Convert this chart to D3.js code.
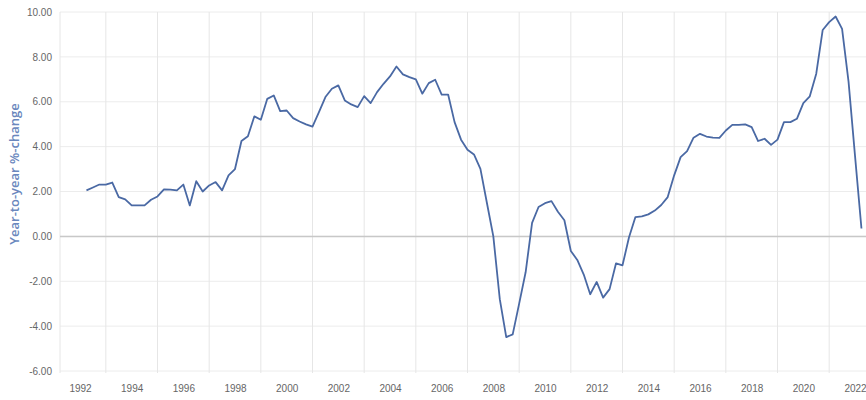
<!DOCTYPE html>
<html>
<head>
<meta charset="utf-8">
<script src="https://cdn.jsdelivr.net/npm/d3@7"></script>
<style>
  body { margin: 0; background: #fff; }
  svg { display: block; }
</style>
</head>
<body>
<svg width="866" height="400"></svg>
<script>
// quarterly year-to-year % change, first point 1992 Q2
var startYear = 1992.25;
var values = [
  2.05, 2.18, 2.31, 2.31, 2.40, 1.75, 1.65, 1.38, 1.38, 1.38,
  1.63, 1.78, 2.09, 2.08, 2.05, 2.31, 1.38, 2.46, 2.00, 2.27,
  2.42, 2.05, 2.72, 3.00, 4.25, 4.46, 5.35, 5.20, 6.13, 6.28,
  5.58, 5.61, 5.27, 5.12, 4.99, 4.89, 5.54, 6.21, 6.58, 6.73,
  6.06, 5.88, 5.76, 6.25, 5.94, 6.43, 6.80, 7.13, 7.57, 7.22,
  7.10, 7.00, 6.36, 6.83, 6.98, 6.32, 6.32, 5.09, 4.31, 3.86,
  3.65, 3.01, 1.50, 0.00, -2.80, -4.49, -4.37, -3.00, -1.60, 0.60,
  1.31, 1.48, 1.57, 1.10, 0.72, -0.65, -1.05, -1.70, -2.58, -2.03,
  -2.73, -2.35, -1.20, -1.29, -0.05, 0.86, 0.89, 0.98, 1.15, 1.40,
  1.75, 2.72, 3.53, 3.80, 4.40, 4.57, 4.45, 4.40, 4.39, 4.72,
  4.97, 4.97, 4.99, 4.87, 4.25, 4.35, 4.08, 4.31, 5.09, 5.09,
  5.24, 5.94, 6.24, 7.25, 9.20, 9.55, 9.80, 9.25, 6.90, 3.60,
  0.35
];
var yearTicks = [1992, 1994, 1996, 1998, 2000, 2002, 2004, 2006, 2008, 2010, 2012, 2014, 2016, 2018, 2020, 2022];
var gridYears = [1993, 1995, 1997, 1999, 2001, 2003, 2005, 2007, 2009, 2011, 2013, 2015, 2017, 2019, 2021];
var valueTicks = [-6, -4, -2, 0, 2, 4, 6, 8, 10];

var svg = d3.select("svg");
var plotLeft = 60, plotRight = 866, plotTop = 12, plotBottom = 371;

var x = d3.scaleLinear().domain([1992, 2022]).range([80, 855]);
var y = d3.scaleLinear().domain([-6, 10]).range([plotBottom, plotTop]);

var data = values.map(function(v, i) { return { t: startYear + i / 4, v: v }; });

// horizontal grid
svg.append("g")
    .selectAll("line")
    .data(valueTicks)
    .enter()
    .append("line")
    .attr("x1", plotLeft).attr("x2", plotRight)
    .attr("y1", function(d) { return y(d); })
    .attr("y2", function(d) { return y(d); })
    .style("stroke", "#ececec")
    .style("stroke-width", 1);

// vertical grid (between year labels)
svg.append("g")
    .selectAll("line")
    .data(gridYears)
    .enter()
    .append("line")
    .attr("x1", function(d) { return x(d); })
    .attr("x2", function(d) { return x(d); })
    .attr("y1", plotTop).attr("y2", plotBottom + 2)
    .style("stroke", "#e6e6e6")
    .style("stroke-width", 1);

// left edge
svg.append("line")
    .attr("x1", plotLeft).attr("x2", plotLeft)
    .attr("y1", plotTop).attr("y2", plotBottom + 2)
    .style("stroke", "#e6e6e6");

// zero line
svg.append("line")
    .attr("x1", plotLeft).attr("x2", plotRight)
    .attr("y1", y(0)).attr("y2", y(0))
    .style("stroke", "#c8c8c8")
    .style("stroke-width", 1.5);

// y axis labels
var yAxis = d3.axisLeft(y)
    .tickValues(valueTicks)
    .tickSize(0)
    .tickPadding(0)
    .tickFormat(function(d) { return d.toFixed(2); });

var gy = svg.append("g")
    .attr("transform", "translate(52,0)")
    .call(yAxis);
gy.select(".domain").remove();
gy.selectAll("text")
    .style("font-family", "'Liberation Sans', Arial, sans-serif")
    .style("font-size", "10px")
    .style("fill", "#666");

// x axis labels
var xAxis = d3.axisBottom(x)
    .tickValues(yearTicks)
    .tickSize(0)
    .tickPadding(0)
    .tickFormat(d3.format("d"));

var gx = svg.append("g")
    .attr("transform", "translate(0,385)")
    .call(xAxis);
gx.select(".domain").remove();
gx.selectAll("text")
    .style("font-family", "'Liberation Sans', Arial, sans-serif")
    .style("font-size", "10px")
    .style("fill", "#666");

// y axis title
svg.append("text")
    .attr("transform", "translate(19,174) rotate(-90)")
    .attr("text-anchor", "middle")
    .style("font-family", "'Open Sans', 'Liberation Sans', sans-serif")
    .style("font-size", "13px")
    .style("font-weight", "600")
    .style("fill", "#6a87bd")
    .text("Year-to-year %-change");

// series line
var line = d3.line()
    .x(function(d) { return x(d.t); })
    .y(function(d) { return y(d.v); });

svg.append("path")
    .datum(data)
    .attr("d", line)
    .style("fill", "none")
    .style("stroke", "#4a69a4")
    .style("stroke-width", 1.8)
    .style("stroke-linejoin", "round");
</script>
</body>
</html>
